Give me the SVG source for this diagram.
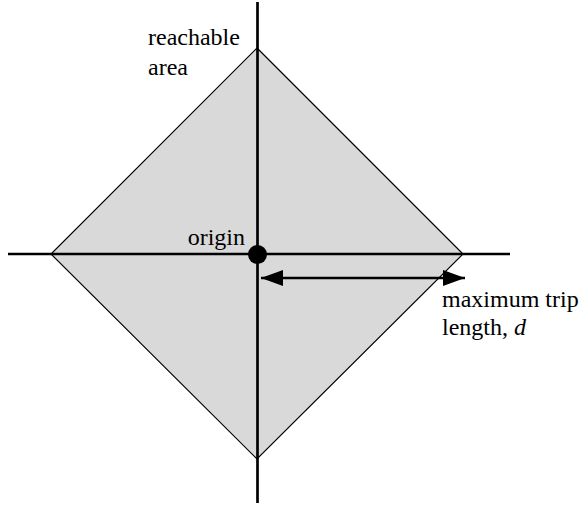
<svg xmlns="http://www.w3.org/2000/svg" width="582" height="506" viewBox="0 0 582 506">
  <style>
    .lbl { font-family: "Liberation Serif", "Times New Roman", serif; font-size: 24px; fill: #000; }
    .axis { stroke: #000; stroke-width: 2.7; fill: none; }
  </style>
  <defs>
    <marker id="ah" viewBox="0 0 22 16" refX="22" refY="8" markerWidth="22" markerHeight="16" markerUnits="userSpaceOnUse" orient="auto-start-reverse">
      <path d="M0,0 L22,8 L0,16 Z" fill="#000"/>
    </marker>
  </defs>
  <rect width="582" height="506" fill="#fff"/>
  <g id="reachable-area">
    <polygon points="257,48 463,254 257,459 51,254" fill="#d9d9d9" stroke="#000" stroke-width="1.2"/>
  </g>
  <g id="connectors">
    <line class="axis" x1="257.5" y1="2" x2="257.5" y2="503"/>
    <line class="axis" x1="8" y1="254" x2="510" y2="254"/>
    <line x1="261" y1="278" x2="465" y2="278" stroke="#000" stroke-width="2.7" marker-start="url(#ah)" marker-end="url(#ah)"/>
  </g>
  <g id="origin">
    <circle cx="257.5" cy="254.5" r="9.5" fill="#000"/>
    <text class="lbl" x="245" y="245" text-anchor="end">origin</text>
  </g>
  <g id="label-reachable">
    <text class="lbl" x="148" y="45">reachable</text>
    <text class="lbl" x="148" y="75">area</text>
  </g>
  <g id="label-trip">
    <text class="lbl" x="442" y="307">maximum trip</text>
    <text class="lbl" x="442" y="335">length, <tspan font-style="italic">d</tspan></text>
  </g>
</svg>
